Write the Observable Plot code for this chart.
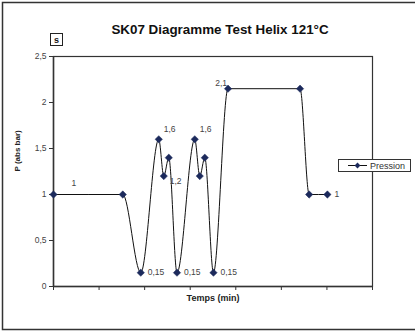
<!DOCTYPE html>
<html>
<head>
<meta charset="utf-8">
<script src="https://cdn.jsdelivr.net/npm/d3@7"></script>
<script src="https://cdn.jsdelivr.net/npm/@observablehq/plot@0.6"></script>
<style>
  html, body { margin: 0; padding: 0; background: #fff; }
  #chart { position: relative; width: 415px; height: 333px; overflow: hidden; }
</style>
</head>
<body>
<div id="chart"></div>
<script>
// Data
const times    = [0, 15.2, 19.15, 23.1, 24.2, 25.3, 27.1, 31.0, 32.1, 33.2, 35.1, 38.3, 54.1, 56.1, 60.1];
const pressure = [1, 1, 0.15, 1.6, 1.2, 1.4, 0.15, 1.6, 1.2, 1.4, 0.15, 2.15, 2.15, 1, 1];
const labels   = ["1", "", "0,15", "1,6", "1,2", "", "0,15", "1,6", "", "", "0,15", "2,1", "", "", "1"];
const yTicks   = [0, 0.5, 1, 1.5, 2, 2.5];
const xTicks   = [0, 10, 20, 30, 40, 50, 60, 70];
const title    = "SK07 Diagramme Test Helix 121°C";
const xTitle   = "Temps (min)";
const yTitle   = "P (abs bar)";
const seriesName = "Pression";

const data = times.map((t, i) => ({t, p: pressure[i], label: labels[i], i}));
const fmt = d => d3.format(".1f")(d).replace(/\.0$/, "").replace(".", ",");
const font = "'Liberation Sans', Arial, sans-serif";

// label placement groups
const rightLbl = data.filter(d => d.label === "0,15" || (d.label === "1" && d.i > 0));
const peakLbl  = data.filter(d => d.label === "1,6");
const lowLbl   = data.filter(d => d.label === "1,2");
const topLbl   = data.filter(d => d.label === "2,1");
const firstLbl = data.filter(d => d.label === "1" && d.i === 0);
const lblStyle = {fontSize: 8.5, fill: "#444"};

const chart = Plot.plot({
  width: 415,
  height: 333,
  marginLeft: 53,
  marginRight: 43,
  marginTop: 56,
  marginBottom: 47,
  style: {fontFamily: font, background: "#fff", overflow: "visible"},
  x: {domain: [0, 70]},
  y: {domain: [0, 2.5]},
  marks: [
    Plot.frame({stroke: "#333", strokeWidth: 1.2}),
    Plot.axisY({ticks: yTicks, tickFormat: fmt, tickSize: 4, tickPadding: 3, fontSize: 8.5, color: "#444", label: null, stroke: "#333"}),
    Plot.axisX({ticks: xTicks, tickFormat: () => "", tickSize: 4, label: null, stroke: "#333"}),
    Plot.ruleX([0], {stroke: "#333", strokeWidth: 1.5}),
    Plot.ruleY([0], {stroke: "#333", strokeWidth: 1.5}),
    Plot.line(data, {x: "t", y: "p", curve: "monotone-x", stroke: "#111", strokeWidth: 1}),
    Plot.dot(data, {x: "t", y: "p", symbol: "diamond2", r: 3.3, fill: "#1c2a5c", stroke: "#1c2a5c", strokeWidth: 0.5}),
    Plot.text(rightLbl, {x: "t", y: "p", text: "label", dx: 7, textAnchor: "start", ...lblStyle}),
    Plot.text(peakLbl, {x: "t", y: "p", text: "label", dx: 5, dy: -10, textAnchor: "start", ...lblStyle}),
    Plot.text(lowLbl, {x: "t", y: "p", text: "label", dx: 6, dy: 5, textAnchor: "start", ...lblStyle}),
    Plot.text(topLbl, {x: "t", y: "p", text: "label", dx: -1, dy: -5, textAnchor: "end", ...lblStyle}),
    Plot.text(firstLbl, {x: "t", y: "p", text: "label", dx: 18, dy: -11, textAnchor: "start", ...lblStyle}),
    Plot.text([title], {frameAnchor: "top", dx: 7, dy: -32, fontSize: 13.4, fontWeight: "bold", fill: "#111"}),
    Plot.text([xTitle], {frameAnchor: "bottom", dy: 14, fontSize: 9, fontWeight: "bold", fill: "#222"}),
    Plot.text([yTitle], {frameAnchor: "left", dx: -36, rotate: -90, fontSize: 8, fontWeight: "bold", fill: "#222"})
  ]
});

document.getElementById("chart").appendChild(chart);

// Decorations: outer chart frame, "s" box, legend
const svg = d3.select(chart);
svg.append("rect").attr("x", 2.5).attr("y", 2.5).attr("width", 430).attr("height", 327)
  .attr("fill", "none").attr("stroke", "#333").attr("stroke-width", 1.5);

svg.append("rect").attr("x", 50.5).attr("y", 33.5).attr("width", 12).attr("height", 12)
  .attr("fill", "#fff").attr("stroke", "#222").attr("stroke-width", 1);
svg.append("text").attr("x", 56.5).attr("y", 42.5).attr("text-anchor", "middle")
  .attr("font-family", font).attr("font-size", 9).attr("font-weight", "bold").attr("fill", "#111").text("s");

const lg = svg.append("g");
lg.append("rect").attr("x", 338.5).attr("y", 159.5).attr("width", 72).attr("height", 12)
  .attr("fill", "#fff").attr("stroke", "#333").attr("stroke-width", 1);
lg.append("line").attr("x1", 348).attr("x2", 367).attr("y1", 165.5).attr("y2", 165.5)
  .attr("stroke", "#111").attr("stroke-width", 1);
lg.append("path").attr("d", d3.symbol(d3.symbolDiamond2, 22)()).attr("transform", "translate(357.5,165.5)")
  .attr("fill", "#1c2a5c");
lg.append("text").attr("x", 370).attr("y", 169).attr("text-anchor", "start").attr("font-family", font).attr("font-size", 9)
  .attr("fill", "#333").text(seriesName);
</script>
</body>
</html>
